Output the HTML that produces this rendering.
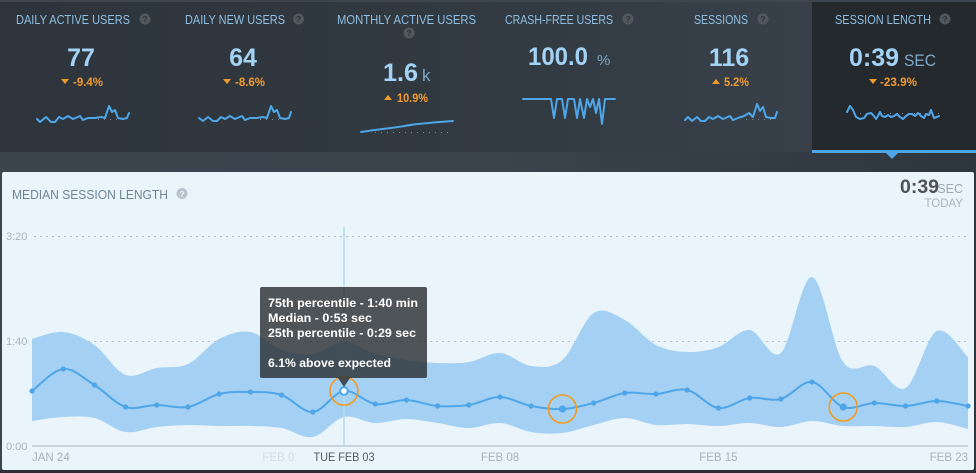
<!DOCTYPE html>
<html>
<head>
<meta charset="utf-8">
<style>
  html,body{margin:0;padding:0;background:#333c44;}
  body{width:976px;height:473px;overflow:hidden;}
  svg{display:block;}
  text{font-family:"Liberation Sans", Arial, sans-serif;}
</style>
</head>
<body>
<svg width="976" height="473" viewBox="0 0 976 473" xmlns="http://www.w3.org/2000/svg">
  <defs>
    <linearGradient id="topbg" x1="0" y1="0" x2="1" y2="0">
      <stop offset="0" stop-color="#2d343b"/>
      <stop offset="0.55" stop-color="#323a42"/>
      <stop offset="0.83" stop-color="#38414a"/>
    </linearGradient>
    <linearGradient id="strip" x1="0" y1="0" x2="1" y2="0">
      <stop offset="0" stop-color="#3b454e"/>
      <stop offset="0.5" stop-color="#3a444d"/>
      <stop offset="1" stop-color="#2e363d"/>
    </linearGradient>
  </defs>

  <!-- backgrounds -->
  <rect x="0" y="0" width="976" height="473" fill="#2f373e"/>
  <rect x="0" y="0" width="976" height="152" fill="url(#topbg)"/>
  <rect x="0" y="0" width="976" height="2" fill="#3d464f"/>
  <rect x="812" y="2" width="164" height="150" fill="#24292e"/>
  <rect x="0" y="152" width="976" height="321" fill="url(#strip)"/>
  <rect x="0" y="470" width="976" height="3" fill="#2a3035"/>
  <rect x="812" y="150" width="164" height="3" fill="#4ea6e8"/>
  <polygon points="885,152 899,152 892,159" fill="#4ea6e8"/>

  <!-- tile titles -->
  <g font-size="12.5" fill="#8fbfe2">
    <text x="16" y="24" textLength="114" lengthAdjust="spacingAndGlyphs">DAILY ACTIVE USERS</text>
    <text x="185" y="24" textLength="100" lengthAdjust="spacingAndGlyphs">DAILY NEW USERS</text>
    <text x="337" y="24" textLength="139" lengthAdjust="spacingAndGlyphs">MONTHLY ACTIVE USERS</text>
    <text x="505" y="24" textLength="108" lengthAdjust="spacingAndGlyphs">CRASH-FREE USERS</text>
    <text x="694" y="24" textLength="54" lengthAdjust="spacingAndGlyphs">SESSIONS</text>
    <text x="835" y="24" textLength="96" lengthAdjust="spacingAndGlyphs">SESSION LENGTH</text>
  </g>
  <!-- help icons -->
  <g>
    <circle cx="145" cy="19" r="5.5" fill="#50575d"/>
    <circle cx="298.5" cy="19" r="5.5" fill="#50575d"/>
    <circle cx="409" cy="33" r="5.5" fill="#50575d"/>
    <circle cx="628" cy="19" r="5.5" fill="#50575d"/>
    <circle cx="763" cy="19" r="5.5" fill="#50575d"/>
    <circle cx="945" cy="19" r="5.5" fill="#50575d"/>
  </g>
  <g font-size="8.5" font-weight="bold" fill="#2c3338" text-anchor="middle">
    <text x="145" y="22">?</text>
    <text x="298.5" y="22">?</text>
    <text x="409" y="36">?</text>
    <text x="628" y="22">?</text>
    <text x="763" y="22">?</text>
    <text x="945" y="22">?</text>
  </g>

  <!-- values -->
  <g font-size="25" font-weight="bold" fill="#a3d2f5">
    <text x="81" y="66" text-anchor="middle">77</text>
    <text x="243" y="66" text-anchor="middle">64</text>
    <text x="383" y="81" textLength="35" lengthAdjust="spacingAndGlyphs">1.6</text>
    <text x="528" y="65" textLength="60" lengthAdjust="spacingAndGlyphs">100.0</text>
    <text x="729" y="66" text-anchor="middle">116</text>
    <text x="849" y="66" textLength="50" lengthAdjust="spacingAndGlyphs">0:39</text>
  </g>
  <g fill="#7fa9c9">
    <text x="422" y="81" font-size="17">k</text>
    <text x="597" y="65" font-size="15">%</text>
    <text x="904" y="66" font-size="17" textLength="32" lengthAdjust="spacingAndGlyphs">SEC</text>
  </g>

  <!-- changes -->
  <g fill="#f29b2c">
    <polygon points="61,79 69,79 65,84"/>
    <polygon points="223,79 231,79 227,84"/>
    <polygon points="384,100 392,100 388,95"/>
    <polygon points="712,84 720,84 716,79"/>
    <polygon points="869,79 877,79 873,84"/>
  </g>
  <g font-size="12" font-weight="bold" fill="#f29b2c">
    <text x="73" y="86" textLength="30" lengthAdjust="spacingAndGlyphs">-9.4%</text>
    <text x="235" y="86" textLength="30" lengthAdjust="spacingAndGlyphs">-8.6%</text>
    <text x="397" y="102" textLength="31" lengthAdjust="spacingAndGlyphs">10.9%</text>
    <text x="724" y="86" textLength="25" lengthAdjust="spacingAndGlyphs">5.2%</text>
    <text x="880" y="86" textLength="37" lengthAdjust="spacingAndGlyphs">-23.9%</text>
  </g>

  <!-- sparkline baselines (dotted) -->
  <g stroke="#7d8890" stroke-width="1" stroke-dasharray="1 5" fill="none">
    <line x1="98" y1="119.5" x2="127" y2="119.5"/>
    <line x1="260" y1="119.5" x2="289" y2="119.5"/>
    <line x1="375" y1="132.5" x2="453" y2="132.5"/>
    <line x1="746" y1="119.5" x2="775" y2="119.5"/>
    <line x1="860" y1="113.5" x2="939" y2="113.5"/>
  </g>
  <!-- sparklines -->
  <g stroke="#4ea6e8" stroke-width="2" fill="none" stroke-linejoin="round" stroke-linecap="round">
    <polyline points="37,119 40,122 46,117 51,122 55,122 59,117 63,119 68,116 73,119 80,116 83,120 88,118 95,118 101,117 105,118 109,106 112,112 115,110 118,118 123,119 127,118 129,113"/>
    <polyline points="199,118 203,121 208,117 213,121 217,121 221,117 225,119 230,116 235,119 242,116 245,120 250,118 257,118 263,117 267,118 271,106 274,112 277,110 280,118 285,119 289,118 291,112"/>
    <path d="M361,132 C380,129 395,128 410,125 C425,123 440,122 453,121"/>
    <polyline points="523,99 551,99 554,118 557,99 562,99 565,118 568,99 574,99 577,118 580,99 584,118 587,99 590,107 593,99 596,113 599,99 602,124 605,99 615,99"/>
    <polyline points="685,120 688,117 692,121 697,117 701,121 705,121 709,117 713,119 718,116 723,119 730,116 733,120 738,118 744,116 749,113 753,117 757,104 760,111 763,107 766,117 771,118 775,118 777,112"/>
    <polyline points="847,112 850,106 853,110 856,117 860,119 864,118 867,114 871,113 874,116 876,119 878,116 880,112 882,116 885,117 888,115 891,117 894,116 897,114 900,117 903,119 906,116 909,114 912,114 915,116 918,113 921,116 924,118 926,114 929,115 931,110 934,118 937,117 939,116"/>
  </g>

  <!-- chart panel -->
  <rect x="2" y="172" width="972" height="298" rx="2" fill="#e9f4fb"/>
  <text x="12" y="199" font-size="12.5" fill="#6f8596" textLength="156" lengthAdjust="spacingAndGlyphs">MEDIAN SESSION LENGTH</text>
  <circle cx="182" cy="193.5" r="5.5" fill="#b7c4ce"/>
  <text x="182" y="197" font-size="8.5" font-weight="bold" fill="#e9f4fb" text-anchor="middle">?</text>

  <text x="900" y="193" font-size="19" font-weight="bold" fill="#4d5257" textLength="39" lengthAdjust="spacingAndGlyphs">0:39</text>
  <text x="963" y="193" font-size="12.5" fill="#9eabb6" text-anchor="end">SEC</text>
  <text x="963" y="207" font-size="11.5" fill="#a9b4be" text-anchor="end">TODAY</text>

  <!-- grid -->
  <g font-size="11" fill="#aab5bf">
    <text x="6" y="240">3:20</text>
    <text x="6" y="345">1:40</text>
    <text x="6" y="450">0:00</text>
  </g>
  <g stroke="#b6bfc7" stroke-width="1" stroke-dasharray="2 4">
    <line x1="34" y1="236.5" x2="970" y2="236.5"/>
    <line x1="34" y1="341.5" x2="970" y2="341.5"/>
  </g>

  <!-- band -->
  <polygon id="bandFallback" fill="#a4d1f3" points="32,339 63.2,332 94.4,345 125.6,375 156.8,368 188,364 219.2,339 250.4,332 281.6,350 312.8,354 344,342 375.2,354 406.4,360 437.6,363 468.8,362 500,353 531.2,366 562.4,360 593.6,313 624.8,320 656,345 687.2,352 718.4,347 749.6,330 780.8,353 812,277 843.2,362 874.4,366 905.6,388 936.8,331 968,357 968,429 936.8,422 905.6,427 874.4,426 843.2,426 812,421 780.8,427 749.6,423 718.4,426 687.2,424 656,425 624.8,418 593.6,425 562.4,433 531.2,432 500,423 468.8,428 437.6,423 406.4,419 375.2,423 344,417 312.8,437 281.6,428 250.4,426 219.2,426 188,425 156.8,427 125.6,432 94.4,418 63.2,417 32,421"/>
  <path id="band" fill="#a4d1f3" d=""/>

  <!-- baseline -->
  <line x1="32" y1="446" x2="968" y2="446" stroke="#c8d5e0" stroke-width="2"/>

  <!-- hover line -->
  <line x1="344" y1="227" x2="344" y2="446" stroke="#b3daf6" stroke-width="1.5"/>

  <!-- median line -->
  <polyline id="medFallback" fill="none" stroke="#4ea6e8" stroke-width="2" points="32,391 63.2,369 94.4,385 125.6,407 156.8,405 188,407 219.2,394 250.4,392 281.6,395 312.8,412 344,391 375.2,404 406.4,400 437.6,406 468.8,405 500,397 531.2,406 562.4,409 593.6,403 624.8,393 656,394 687.2,390 718.4,408 749.6,398 780.8,399 812,382 843.2,407 874.4,403 905.6,406 936.8,401 968,406"/>
  <path id="med" fill="none" stroke="#4ea6e8" stroke-width="2" d=""/>
  <g id="dots" fill="#4ea6e8"></g>

  <!-- highlight circles -->
  <g fill="none" stroke="#f39a1f" stroke-width="1.6">
    <circle cx="344" cy="391" r="14"/>
    <circle cx="562.4" cy="409" r="14"/>
    <circle cx="843.2" cy="407" r="14"/>
  </g>
  <circle cx="562.4" cy="409" r="3.6" fill="#4ea6e8"/>
  <circle cx="843.2" cy="407" r="3.6" fill="#4ea6e8"/>
  <circle cx="344" cy="391" r="3.8" fill="#ffffff" stroke="#4ea6e8" stroke-width="2"/>

  <!-- x labels -->
  <g font-size="11.5" fill="#a6b2bc">
    <text x="32" y="461">JAN 24</text>
    <text x="281.6" y="461" text-anchor="middle" fill="#d3dde5">FEB 01</text>
    <text x="500" y="461" text-anchor="middle">FEB 08</text>
    <text x="718.4" y="461" text-anchor="middle">FEB 15</text>
    <text x="968" y="461" text-anchor="end">FEB 23</text>
  </g>
  <rect x="296" y="449" width="92" height="16" fill="#e9f4fb"/>
  <text x="344" y="461" font-size="11.5" fill="#55595e" text-anchor="middle" textLength="61" lengthAdjust="spacingAndGlyphs">TUE FEB 03</text>

  <!-- tooltip -->
  <rect x="260" y="287" width="167" height="91" rx="2" fill="rgba(40,44,48,0.8)"/>
  <polygon points="338,378 350,378 344,387" fill="rgba(40,44,48,0.8)"/>
  <g font-size="12" font-weight="bold" fill="#ffffff">
    <text x="268" y="307" textLength="150" lengthAdjust="spacingAndGlyphs">75th percentile - 1:40 min</text>
    <text x="268" y="322" textLength="104" lengthAdjust="spacingAndGlyphs">Median - 0:53 sec</text>
    <text x="268" y="337" textLength="148" lengthAdjust="spacingAndGlyphs">25th percentile - 0:29 sec</text>
    <text x="268" y="367" textLength="123" lengthAdjust="spacingAndGlyphs">6.1% above expected</text>
  </g>
</svg>
<script>
(function(){
  var med=[391,369,385,407,405,407,394,392,395,412,391,404,400,406,405,397,406,409,403,393,394,390,408,398,399,382,407,403,406,401,406];
  var up=[339,332,345,375,368,364,339,332,350,354,342,354,360,363,362,353,366,360,313,320,345,352,347,330,353,277,362,366,388,331,357];
  var lo=[421,417,418,432,427,425,426,426,428,437,417,423,419,423,428,423,432,433,425,418,425,424,426,423,427,421,426,426,427,422,429];
  function X(i){return 32+31.2*i;}
  function pts(a){return a.map(function(y,i){return [X(i),y];});}
  function seg(p,start){
    var d=start?('M'+p[0][0].toFixed(1)+','+p[0][1].toFixed(1)):('L'+p[0][0].toFixed(1)+','+p[0][1].toFixed(1));
    for(var i=0;i<p.length-1;i++){
      var p0=p[i-1]||p[i],p1=p[i],p2=p[i+1],p3=p[i+2]||p[i+1];
      var c1x=p1[0]+(p2[0]-p0[0])/6,c1y=p1[1]+(p2[1]-p0[1])/6;
      var c2x=p2[0]-(p3[0]-p1[0])/6,c2y=p2[1]-(p3[1]-p1[1])/6;
      d+=' C'+c1x.toFixed(1)+','+c1y.toFixed(1)+' '+c2x.toFixed(1)+','+c2y.toFixed(1)+' '+p2[0].toFixed(1)+','+p2[1].toFixed(1);
    }
    return d;
  }
  var U=pts(up),L=pts(lo).reverse(),M=pts(med);
  document.getElementById('band').setAttribute('d',seg(U,true)+' '+seg(L,false)+' Z');
  document.getElementById('med').setAttribute('d',seg(M,true));
  document.getElementById('bandFallback').setAttribute('display','none');
  document.getElementById('medFallback').setAttribute('display','none');
  var g=document.getElementById('dots'),ns='http://www.w3.org/2000/svg';
  M.forEach(function(p,i){
    if(i===10||i===17||i===26)return;
    var c=document.createElementNS(ns,'circle');
    c.setAttribute('cx',p[0]);c.setAttribute('cy',p[1]);c.setAttribute('r',2.6);
    g.appendChild(c);
  });
})();
</script>
</body>
</html>
